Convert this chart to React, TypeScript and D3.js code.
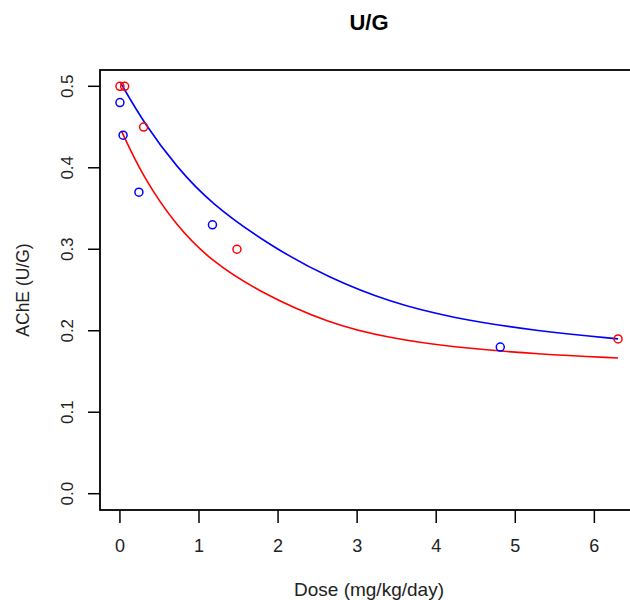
import React, { useEffect, useRef } from "react";
import * as d3 from "d3";

// observed points
const redDose = [0, 0.06, 0.3, 1.48, 6.3];
const redAche = [0.5, 0.5, 0.45, 0.3, 0.19];
const blueDose = [0, 0.04, 0.24, 1.17, 4.81];
const blueAche = [0.48, 0.44, 0.37, 0.33, 0.18];

// fitted curves
const blueFitDose = [0.01, 0.316, 0.717, 1.139, 1.9, 2.658, 3.418, 4.177, 5.316, 6.3];
const blueFitAche = [0.504, 0.453, 0.401, 0.357, 0.304, 0.264, 0.235, 0.216, 0.199, 0.19];
const redFitDose = [0.02, 0.295, 0.717, 1.139, 1.73, 2.658, 3.418, 4.177, 5.316, 6.3];
const redFitAche = [0.445, 0.388, 0.328, 0.287, 0.249, 0.208, 0.191, 0.18, 0.171, 0.1666];

const xTicks = [0, 1, 2, 3, 4, 5, 6];
const yTicks = [0.0, 0.1, 0.2, 0.3, 0.4, 0.5];

export default function App() {
  const svgRef = useRef<SVGSVGElement>(null);

  useEffect(() => {
    const width = 630;
    const height = 600;
    const left = 100;
    const right = 638;
    const top = 70;
    const bottom = 510;

    const svg = d3.select(svgRef.current);
    svg.selectAll("*").remove();
    svg.attr("width", width).attr("height", height).attr("viewBox", [0, 0, width, height]);

    const x = d3.scaleLinear().domain([-0.252, 6.552]).range([left, right]);
    const y = d3.scaleLinear().domain([-0.02, 0.52]).range([bottom, top]);

    const font = "'Liberation Sans', Arial, sans-serif";

    // title
    svg
      .append("text")
      .attr("x", (left + right) / 2)
      .attr("y", 30)
      .attr("text-anchor", "middle")
      .attr("font-family", font)
      .attr("font-weight", "bold")
      .attr("font-size", 22)
      .text("U/G");

    // box
    svg
      .append("rect")
      .attr("x", left)
      .attr("y", top)
      .attr("width", right - left)
      .attr("height", bottom - top)
      .attr("fill", "none")
      .attr("stroke", "#000")
      .attr("stroke-width", 1.8);

    // x axis ticks
    const xa = svg.append("g");
    xa.selectAll("line")
      .data(xTicks)
      .join("line")
      .attr("x1", (d) => x(d))
      .attr("x2", (d) => x(d))
      .attr("y1", bottom)
      .attr("y2", bottom + 13)
      .attr("stroke", "#000")
      .attr("stroke-width", 1.5);
    xa.selectAll("text")
      .data(xTicks)
      .join("text")
      .attr("x", (d) => x(d))
      .attr("y", 552)
      .attr("text-anchor", "middle")
      .attr("font-family", font)
      .attr("font-size", 18)
      .attr("fill", "#222")
      .text((d) => d3.format("d")(d));

    // y axis ticks
    const ya = svg.append("g");
    ya.selectAll("line")
      .data(yTicks)
      .join("line")
      .attr("x1", left - 12)
      .attr("x2", left)
      .attr("y1", (d) => y(d))
      .attr("y2", (d) => y(d))
      .attr("stroke", "#000")
      .attr("stroke-width", 1.5);
    ya.selectAll("text")
      .data(yTicks)
      .join("text")
      .attr("transform", (d) => `translate(73,${y(d)}) rotate(-90)`)
      .attr("text-anchor", "middle")
      .attr("font-family", font)
      .attr("font-size", 17)
      .attr("fill", "#222")
      .text((d) => d3.format(".1f")(d));

    // axis titles
    svg
      .append("text")
      .attr("x", (left + right) / 2)
      .attr("y", 596)
      .attr("text-anchor", "middle")
      .attr("font-family", font)
      .attr("font-size", 19)
      .attr("fill", "#222")
      .text("Dose (mg/kg/day)");
    svg
      .append("text")
      .attr("transform", `translate(29,${(top + bottom) / 2}) rotate(-90)`)
      .attr("text-anchor", "middle")
      .attr("font-family", font)
      .attr("font-size", 17.5)
      .attr("fill", "#222")
      .text("AChE (U/G)");

    // curves
    const line = d3
      .line<[number, number]>()
      .x((d) => x(d[0]))
      .y((d) => y(d[1]))
      .curve(d3.curveBasis);

    const curves = [
      { xs: blueFitDose, ys: blueFitAche, color: "#0000ff" },
      { xs: redFitDose, ys: redFitAche, color: "#ff0000" },
    ];
    curves.forEach((c) => {
      svg
        .append("path")
        .datum(c.xs.map((v, i) => [v, c.ys[i]] as [number, number]))
        .attr("d", line)
        .attr("fill", "none")
        .attr("stroke", c.color)
        .attr("stroke-width", 1.6);
    });

    // points
    const groups = [
      { xs: redDose, ys: redAche, color: "#ff0000" },
      { xs: blueDose, ys: blueAche, color: "#0000ff" },
    ];
    groups.forEach((g) => {
      svg
        .append("g")
        .selectAll("circle")
        .data(g.xs.map((v, i) => [v, g.ys[i]]))
        .join("circle")
        .attr("cx", (d) => x(d[0]))
        .attr("cy", (d) => y(d[1]))
        .attr("r", 4)
        .attr("fill", "none")
        .attr("stroke", g.color)
        .attr("stroke-width", 1.5);
    });
  }, []);

  return <svg ref={svgRef} style={{ position: "absolute", left: 0, top: 0 }}></svg>;
}
